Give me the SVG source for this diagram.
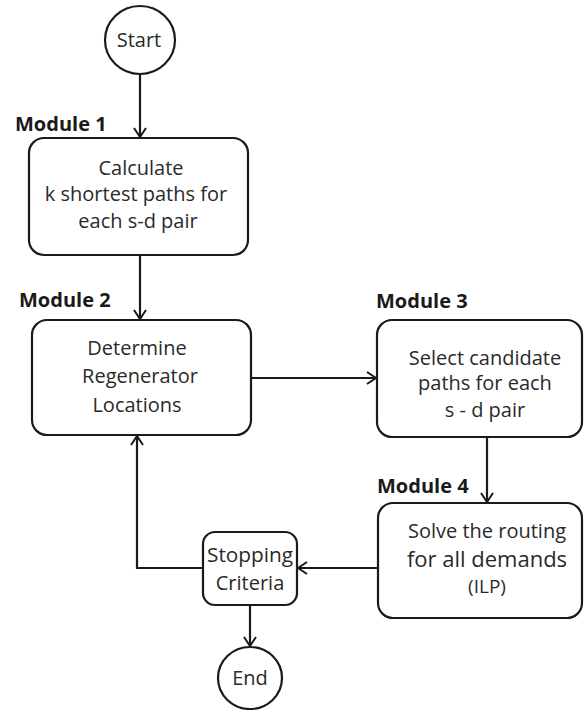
<svg xmlns="http://www.w3.org/2000/svg" width="587" height="710" viewBox="0 0 587 710">
  <style>
    .shape { fill: #fff; stroke: #1a1a1a; stroke-width: 2.2; }
    .wire { fill: none; stroke: #1a1a1a; stroke-width: 2.2; }
    .txt { font-family: "Open Sans", "Liberation Sans", sans-serif; font-size: 20px; fill: #2a2a2a; text-anchor: middle; }
    .lbl { font-family: "Open Sans", "Liberation Sans", sans-serif; font-size: 20px; font-weight: bold; fill: #1a1a1a; }
  </style>
  <defs>
    <marker id="arrow" markerWidth="14" markerHeight="14" refX="11" refY="7" orient="auto" markerUnits="userSpaceOnUse">
      <path d="M2,1 L11,7 L2,13" fill="none" stroke="#1a1a1a" stroke-width="2"/>
    </marker>
  </defs>

  <rect width="587" height="710" fill="#fff"/>

  <!-- connectors -->
  <g id="connectors">
    <line class="wire" x1="140" y1="75" x2="140" y2="137" marker-end="url(#arrow)"/>
    <line class="wire" x1="140" y1="255" x2="140" y2="319" marker-end="url(#arrow)"/>
    <line class="wire" x1="251" y1="378" x2="376" y2="378" marker-end="url(#arrow)"/>
    <line class="wire" x1="487" y1="437" x2="487" y2="502" marker-end="url(#arrow)"/>
    <line class="wire" x1="378" y1="568" x2="298" y2="568" marker-end="url(#arrow)"/>
    <polyline class="wire" points="203,568 137,568 137,436" marker-end="url(#arrow)"/>
    <line class="wire" x1="250" y1="605" x2="250" y2="646" marker-end="url(#arrow)"/>
  </g>

  <!-- start -->
  <g id="start">
    <ellipse class="shape" cx="140" cy="40" rx="35" ry="34"/>
    <text class="txt" x="139" y="47">Start</text>
  </g>

  <!-- module 1 -->
  <g id="module1">
    <text class="lbl" x="15" y="131">Module 1</text>
    <rect class="shape" x="29" y="138" width="219" height="117" rx="15"/>
    <text class="txt" x="141" y="175">Calculate</text>
    <text class="txt" x="136" y="201">k shortest paths for</text>
    <text class="txt" x="138" y="228">each s-d pair</text>
  </g>

  <!-- module 2 -->
  <g id="module2">
    <text class="lbl" x="19" y="307">Module 2</text>
    <rect class="shape" x="32" y="320" width="219" height="115" rx="15"/>
    <text class="txt" x="137" y="355">Determine</text>
    <text class="txt" x="140" y="383">Regenerator</text>
    <text class="txt" x="137" y="412">Locations</text>
  </g>

  <!-- module 3 -->
  <g id="module3">
    <text class="lbl" x="376" y="308">Module 3</text>
    <rect class="shape" x="377" y="320" width="205" height="117" rx="15"/>
    <text class="txt" x="485" y="365">Select candidate</text>
    <text class="txt" x="485" y="390">paths for each</text>
    <text class="txt" x="485" y="417">s - d pair</text>
  </g>

  <!-- module 4 -->
  <g id="module4">
    <text class="lbl" x="377" y="493">Module 4</text>
    <rect class="shape" x="378" y="503" width="204" height="115" rx="15"/>
    <text class="txt" x="487" y="538">Solve the routing</text>
    <text class="txt" x="487" y="567" style="font-size:22px">for all demands</text>
    <text class="txt" x="487" y="593" style="font-size:19px">(ILP)</text>
  </g>

  <!-- stopping criteria -->
  <g id="stopping">
    <rect class="shape" x="203" y="532" width="94" height="73" rx="12"/>
    <text class="txt" x="250" y="562" textLength="86" lengthAdjust="spacingAndGlyphs">Stopping</text>
    <text class="txt" x="250" y="590">Criteria</text>
  </g>

  <!-- end -->
  <g id="end">
    <ellipse class="shape" cx="250" cy="678" rx="32" ry="31"/>
    <text class="txt" x="250" y="685">End</text>
  </g>
</svg>
